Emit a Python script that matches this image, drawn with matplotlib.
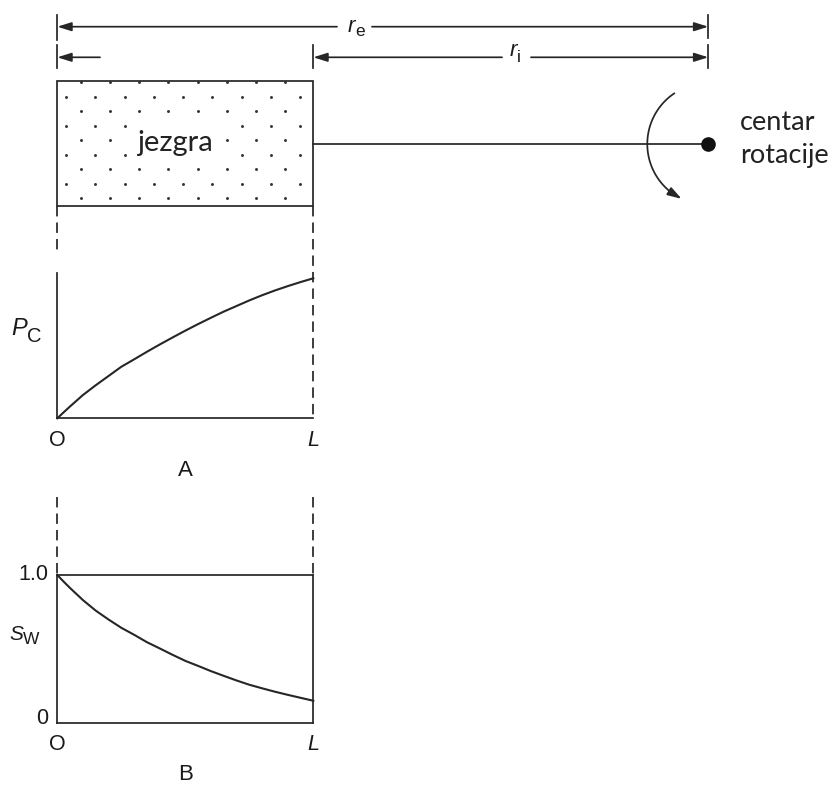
import numpy as np
import matplotlib
matplotlib.use('Agg')
import matplotlib.pyplot as plt
from matplotlib.patches import Rectangle

plt.rcParams['font.family'] = ['Liberation Sans', 'DejaVu Sans']

# polozaj duz jezgre (0 = O, 1 = L)
polozaj = [0.0, 0.025, 0.05, 0.1, 0.15, 0.2, 0.25, 0.3, 0.35, 0.4, 0.45,
           0.5, 0.55, 0.6, 0.65, 0.7, 0.75, 0.8, 0.85, 0.9, 0.95, 1.0]
# kapilarni tlak (A), relativno
pc = [0.0, 0.043, 0.085, 0.166, 0.236, 0.302, 0.368, 0.421, 0.475, 0.527, 0.577,
      0.626, 0.673, 0.718, 0.762, 0.802, 0.842, 0.879, 0.913, 0.944, 0.973, 1.0]
# zasicenje vodom (B)
sw = [1.0, 0.955, 0.912, 0.831, 0.760, 0.700, 0.644, 0.597, 0.547, 0.505, 0.462,
      0.421, 0.387, 0.352, 0.320, 0.289, 0.260, 0.236, 0.213, 0.192, 0.172, 0.152]

oznake_x = ['O', 'L']
oznake_sw = ['0', '1.0']

boja = '#262626'
tekst = '#1a1a1a'
lw = 1.25

W, H = 832, 785
fig = plt.figure(figsize=(W / 100, H / 100), dpi=100)

# glavna os u pikselima (crtez jezgre i kote)
ax = fig.add_axes([0, 0, 1, 1])
ax.set_xlim(0, W)
ax.set_ylim(H, 0)
ax.axis('off')

x0, x1, xc, yc = 57.3, 313.3, 708.3, 144


def strelica(xa, ya, xb, yb):
    # linija od (xa, ya) do (xb, yb) sa vrhom strelice na kraju
    ax.annotate('', xy=(xb, yb), xytext=(xa, ya),
                arrowprops=dict(arrowstyle='-|>,head_length=0.7,head_width=0.22',
                                mutation_scale=12, color=boja, lw=lw,
                                shrinkA=0, shrinkB=0))


def crtica(x, ya, yb):
    ax.plot([x, x], [ya, yb], color=boja, lw=lw)


# r_e kota
crtica(x0, 15, 40)
crtica(xc, 15, 38)
strelica(337, 26.7, x0, 26.7)
strelica(372, 26.7, xc, 26.7)
ax.text(355, 31.7, 'r', style='italic', fontsize=16, ha='right', va='baseline', color=tekst)
ax.text(355, 35.7, 'e', fontsize=12.5, ha='left', va='baseline', color=tekst)

# r_i kota
crtica(x0, 45, 68)
crtica(x1, 45, 68)
crtica(xc, 45, 68)
strelica(100, 57.3, x0, 57.3)
strelica(502, 57.3, x1, 57.3)
strelica(531, 57.3, xc, 57.3)
ax.text(516.7, 56.3, 'r', style='italic', fontsize=16, ha='right', va='baseline', color=tekst)
ax.text(516.7, 62.5, 'i', fontsize=12.5, ha='left', va='baseline', color=tekst)

# jezgra
ax.add_patch(Rectangle((x0, 80.7), x1 - x0, 125, fill=False, ec=boja, lw=lw))
tx, ty = [], []
for k in range(9):
    y = 82 + k * 14.5
    if k % 2 == 1:
        xs = 66 + np.arange(9) * 29.25
    else:
        xs = 80.7 + np.arange(8) * 29.25
    tx.extend(xs)
    ty.extend([y] * len(xs))
ax.scatter(tx, ty, s=4.5, color='#333333', lw=0, zorder=1)
ax.text(175, 143, 'jezgra', family=['Lato', 'DejaVu Sans'], fontsize=21,
        ha='center', va='center', color='#222222', zorder=3,
        bbox=dict(fc='white', ec='none', pad=6))

# os rotacije
ax.plot([x1, xc], [yc, yc], color=boja, lw=lw)
ax.plot([xc], [yc], 'o', color='#111111', ms=9.5)
r = 61
kut = np.radians(np.linspace(124, 233, 60))
lx = xc + r * np.cos(kut)
ly = yc - r * np.sin(kut)
ax.plot(lx, ly, color=boja, lw=lw)
vrh = np.radians(244)
strelica(lx[-1], ly[-1], xc + r * np.cos(vrh), yc - r * np.sin(vrh))
ax.text(740, 123, 'centar', family=['Lato', 'DejaVu Sans'], fontsize=19.5,
        ha='left', va='center', color='#222222')
ax.text(740, 155, 'rotacije', family=['Lato', 'DejaVu Sans'], fontsize=19.5,
        ha='left', va='center', color='#222222')

# isprekidane linije
isp = (0, (6, 3.5))
ax.plot([x0, x0], [205.7, 253], color=boja, lw=lw, ls=isp)
ax.plot([x1, x1], [205.7, 418.3], color=boja, lw=lw, ls=isp)
ax.plot([x0, x0], [497, 575], color=boja, lw=lw, ls=isp)
ax.plot([x1, x1], [497, 575], color=boja, lw=lw, ls=isp)

# graf A: Pc
axA = fig.add_axes([x0 / W, (H - 418.3) / H, (x1 - x0) / W, 145 / H])
axA.set_facecolor('none')
axA.set_xlim(0, 1)
axA.set_ylim(0, 145 / 140)
axA.plot(polozaj, pc, color=boja, lw=1.5, clip_on=False)
for s in ['top', 'right']:
    axA.spines[s].set_visible(False)
for s in ['left', 'bottom']:
    axA.spines[s].set_color(boja)
    axA.spines[s].set_linewidth(lw)
axA.set_xticks([])
axA.set_yticks([])

# graf B: Sw
axB = fig.add_axes([x0 / W, (H - 723.3) / H, (x1 - x0) / W, 148.3 / H])
axB.set_facecolor('none')
axB.set_xlim(0, 1)
axB.set_ylim(0, 1)
axB.plot(polozaj, sw, color=boja, lw=1.5, clip_on=False)
for s in axB.spines.values():
    s.set_color(boja)
    s.set_linewidth(lw)
axB.set_xticks([])
axB.set_yticks([])

# oznake
ax.text(26.7, 335, 'P', style='italic', fontsize=17, ha='right', va='baseline', color=tekst)
ax.text(27, 341.7, 'C', fontsize=14.5, ha='left', va='baseline', color=tekst)
ax.text(23, 640, 'S', style='italic', fontsize=15, ha='right', va='baseline', color=tekst)
ax.text(23, 643.5, 'W', fontsize=12.5, ha='left', va='baseline', color=tekst)

ax.text(48, 575, oznake_sw[1], fontsize=15.5, ha='right', va='center', color=tekst)
ax.text(48, 718, oznake_sw[0], fontsize=15.5, ha='right', va='center', color=tekst)

for yy in [440, 745]:
    ax.text(x0, yy, oznake_x[0], fontsize=15.5, ha='center', va='center', color=tekst)
    ax.text(x1, yy, oznake_x[1], fontsize=15.5, style='italic', ha='center', va='center', color=tekst)
ax.text(185, 470, 'A', fontsize=16, ha='center', va='center', color=tekst)
ax.text(186, 775, 'B', fontsize=16, ha='center', va='center', color=tekst)

fig.savefig('out.png', dpi=100, facecolor='white')
